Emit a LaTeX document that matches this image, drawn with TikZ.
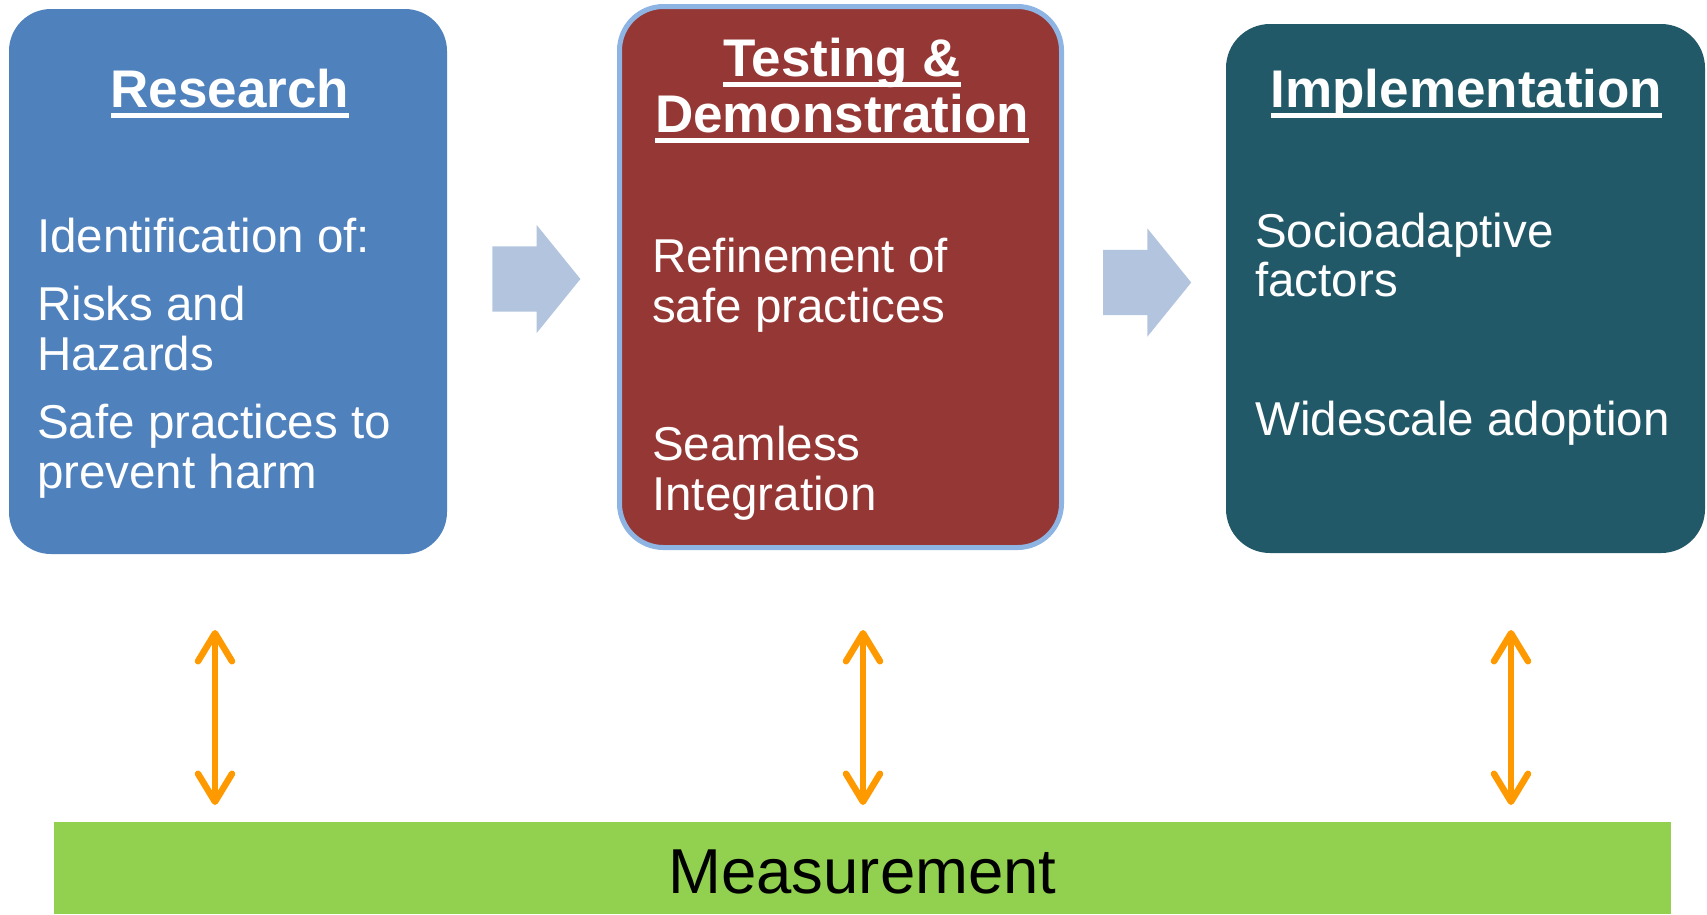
\documentclass[tikz,border=0pt]{standalone}
\usepackage{fontspec}
\setmainfont{Liberation Sans}
\usepackage{tikz}
\usetikzlibrary{shapes.arrows, arrows.meta, calc, positioning}
\definecolor{researchblue}{RGB}{79,129,189}
\definecolor{testingred}{RGB}{149,55,53}
\definecolor{testingedge}{RGB}{141,180,226}
\definecolor{implteal}{RGB}{34,89,104}
\definecolor{flowgray}{RGB}{179,196,223}
\definecolor{measureorange}{RGB}{255,153,0}
\definecolor{measuregreen}{RGB}{146,208,80}
\newcommand{\bodyfont}{\fontsize{47.5}{49.5}\selectfont}
\newcommand{\headfont}{\fontsize{53}{55.5}\selectfont\bfseries}
\newcommand{\stageul}[1]{\setbox0=\hbox{#1}\rlap{\rule[-10.5pt]{\wd0}{5pt}}\box0}
\tikzstyle{stage} = [rectangle, rounded corners=42pt, inner sep=0pt]
\tikzstyle{heading} = [font=\headfont, text=white, align=center, inner sep=0pt, anchor=base]
\tikzstyle{bodytext} = [font=\bodyfont, text=white, align=left, inner sep=0pt, anchor=base west]
\tikzstyle{flow} = [single arrow, single arrow head extend=21.5pt, single arrow tip angle=102, minimum height=88pt, inner xsep=0pt, inner ysep=32.5pt, fill=flowgray]
\tikzstyle{measure} = [line width=6.5pt, draw=measureorange, {Straight Barb[length=28pt, width=34pt, round]}-{Straight Barb[length=28pt, width=34pt, round]}]
\begin{document}
\begin{tikzpicture}[x=1pt, y=-1pt]
		\useasboundingbox (0,0) rectangle (1707,914);
		\node (Research) [stage, fill=researchblue, minimum width=438pt, minimum height=545pt] at (228,281.5) {};
		\node (Testing) [stage, fill=testingred, draw=testingedge, line width=5pt, rounded corners=44pt, minimum width=442pt, minimum height=541pt] at (840.5,277) {};
		\node (Implementation) [stage, fill=implteal, rounded corners=44pt, minimum width=479pt, minimum height=529pt] at (1465.5,288.5) {};
		% headings sit on their last baseline
		\node (ResearchTitle) [heading] at (230,107.5) {\stageul{Research}};
		\node (TestingTitle) [heading] at (842,132) {\stageul{Testing \&}\\\stageul{Demonstration}};
		\node (ImplementationTitle) [heading] at (1466.5,107) {\stageul{Implementation}};
		\node (ResearchBody) [bodytext] at (37,488) {Identification of:\\[19pt]Risks and\\Hazards\\[19pt]Safe practices to\\prevent harm};
		\node (TestingBody) [bodytext] at (652,510) {Refinement of\\safe practices\\[89pt]Seamless\\Integration};
		\node (ImplementationBody) [bodytext] at (1255,435) {Socioadaptive\\factors\\[89pt]Widescale adoption};
		\node (FlowOne) [flow, right = 45pt of Research, yshift=2.5pt] {};
		\node (FlowTwo) [flow, right = 39pt of Testing, yshift=-5.5pt] {};
		\node (Measurement) [rectangle, fill=measuregreen, inner sep=0pt, minimum width=1617pt, minimum height=92pt, text height=50pt, text depth=0pt, font=\fontsize{63.5}{70}\selectfont] at (862.5,868) {Measurement};
		\coordinate (ResearchUp) at (215,630);
		\coordinate (ResearchDown) at (215,805);
		\coordinate (TestingUp) at (863,630);
		\coordinate (TestingDown) at (863,805);
		\coordinate (ImplementationUp) at (1511,630);
		\coordinate (ImplementationDown) at (1511,805);
		\draw [measure] (ResearchUp) -- (ResearchDown);
		\draw [measure] (TestingUp) -- (TestingDown);
		\draw [measure] (ImplementationUp) -- (ImplementationDown);
\end{tikzpicture}
\end{document}
